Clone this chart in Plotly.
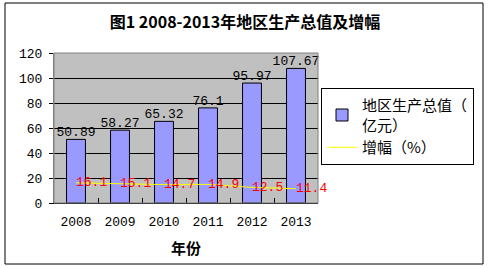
import plotly.graph_objects as go

years = ["2008", "2009", "2010", "2011", "2012", "2013"]
gdp = [50.89, 58.27, 65.32, 76.1, 95.97, 107.67]
growth = [16.1, 15.1, 14.7, 14.9, 12.5, 11.4]
gdp_labels = ["50.89", "58.27", "65.32", "76.1", "95.97", "107.67"]
growth_labels = ["16.1", "15.1", "14.7", "14.9", "12.5", "11.4"]

W, H = 491, 267
L, R, T, B = 54, 318, 53, 203

def px_x(p):
    return (p - L) / (R - L)

def px_y(p):
    return (B - p) / (B - T)

num_font = "Liberation Mono, Noto Sans CJK SC"
cjk_font = "Noto Sans CJK SC"

fig = go.Figure()
fig.add_trace(go.Bar(
    x=years, y=gdp, name="地区生产总值（<br>亿元）",
    width=0.43,
    marker=dict(color="#9999FF", line=dict(color="black", width=1)),
))
fig.add_trace(go.Scatter(
    x=years, y=gdp, mode="text", showlegend=False,
    text=gdp_labels, textposition="top center", cliponaxis=False,
    textfont=dict(family=num_font, size=13, color="black"),
    hoverinfo="skip",
))
fig.add_trace(go.Scatter(
    x=years, y=growth, name="增幅（%）", mode="lines+text",
    line=dict(color="#FFFF00", width=1),
    text=growth_labels, textposition="middle right", cliponaxis=False,
    textfont=dict(family=num_font, size=13, color="red"),
))

fig.update_layout(
    width=W, height=H,
    margin=dict(l=L, r=W - R, t=T, b=H - B, pad=0),
    paper_bgcolor="white", plot_bgcolor="#C0C0C0",
    font=dict(family=cjk_font, size=13, color="black"),
    title=dict(text="<b>图1 2008-2013年地区生产总值及增幅</b>", x=245 / W, xanchor="center",
               y=1 - 22 / H, yanchor="middle", font=dict(size=16, family=cjk_font)),
    showlegend=True,
    legend=dict(x=px_x(321), y=px_y(88), xanchor="left", yanchor="top",
                bordercolor="black", borderwidth=1, bgcolor="white",
                font=dict(size=15, family=cjk_font), tracegroupgap=0),
)
fig.update_xaxes(
    type="category", range=[-0.5, 5.5],
    showline=True, linecolor="black", linewidth=1,
    ticks="inside", tickson="boundaries", ticklen=5, tickcolor="black",
    tickfont=dict(family=num_font, size=13), ticklabelstandoff=6,
    title=dict(text="<b>年份</b>", font=dict(size=15, family=cjk_font), standoff=14),
    showgrid=False, automargin=False,
)
fig.update_yaxes(
    range=[0, 120], dtick=20,
    showgrid=True, gridcolor="black", gridwidth=1,
    showline=True, linecolor="#808080", linewidth=1,
    ticks="outside", ticklen=4, tickcolor="black",
    tickfont=dict(family=num_font, size=13), ticklabelstandoff=4,
    zeroline=False, automargin=False,
)
fig.add_shape(type="rect", xref="paper", yref="paper", x0=0, y0=0, x1=1, y1=1,
              line=dict(color="#808080", width=1), layer="above")
fig.add_shape(type="rect", xref="paper", yref="paper",
              x0=px_x(5), y0=px_y(264), x1=px_x(483), y1=px_y(3),
              line=dict(color="black", width=1), layer="above")

fig.write_html("out.html", config={"displayModeBar": False},
               post_script="document.body.style.margin='0';")
